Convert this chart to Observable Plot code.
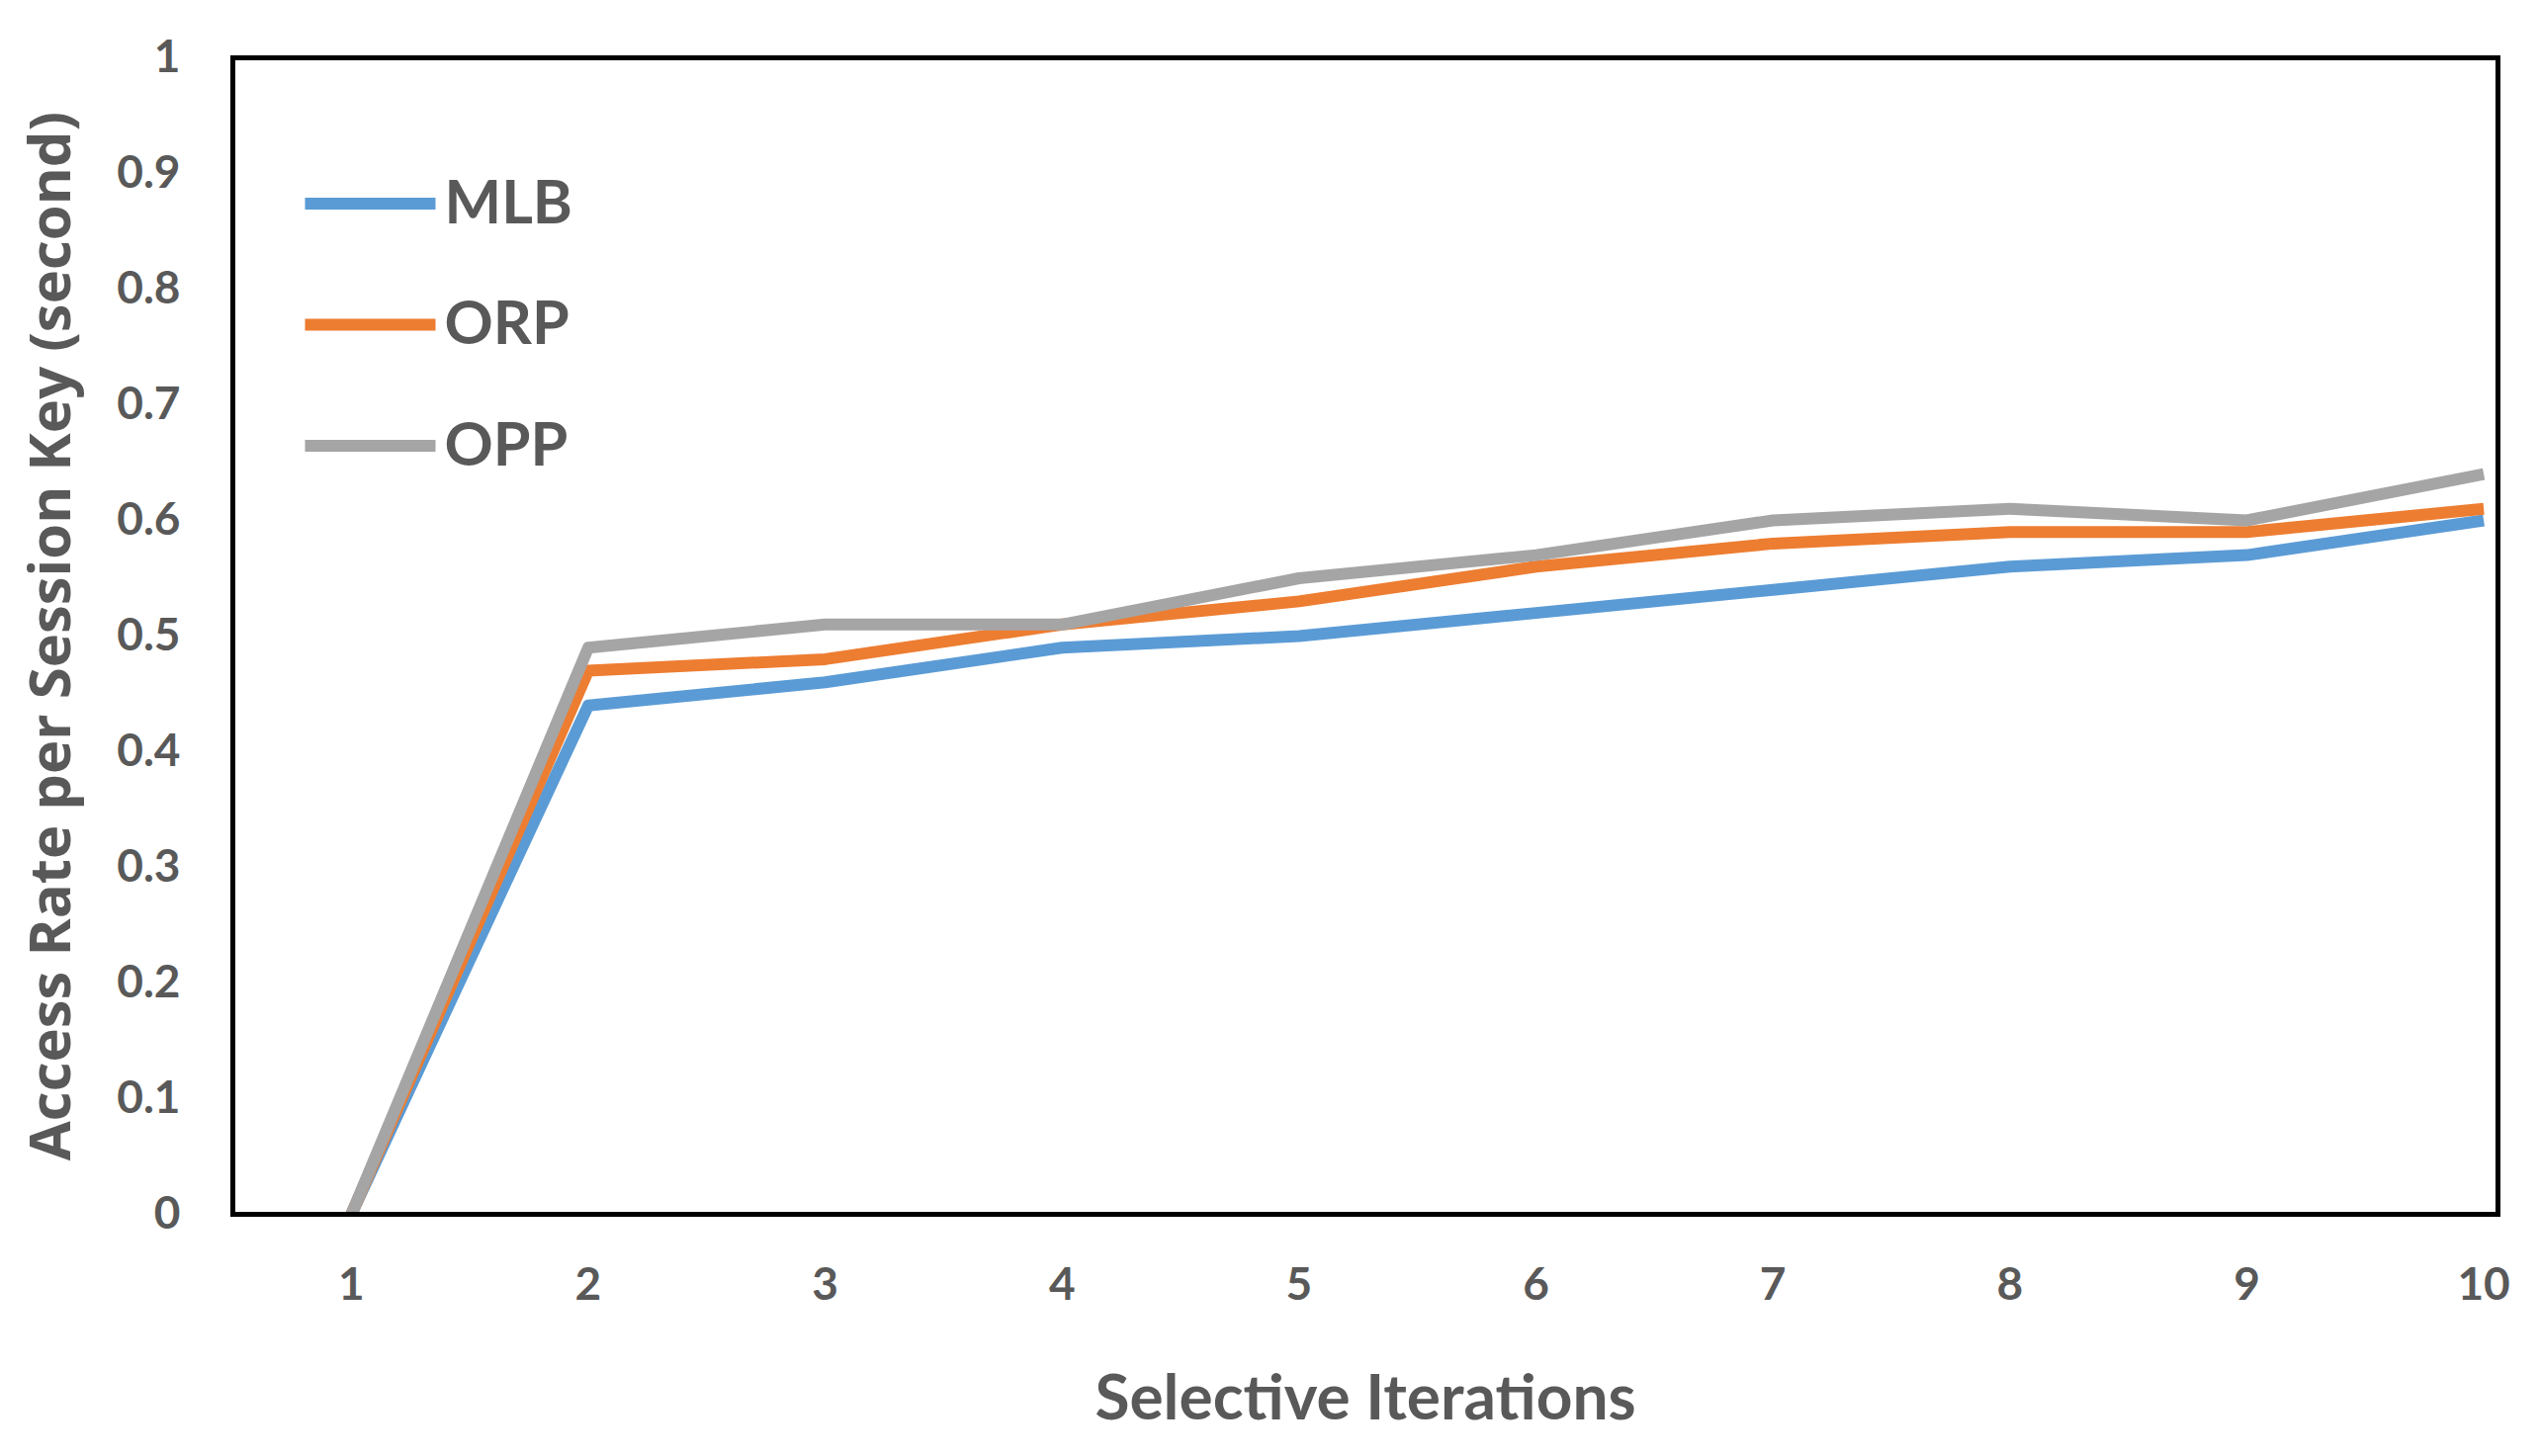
<!DOCTYPE html>
<html><head><meta charset="utf-8">
<script src="https://cdn.jsdelivr.net/npm/d3@7"></script>
<script src="https://cdn.jsdelivr.net/npm/@observablehq/plot@0.6"></script>
<style>html,body{margin:0;padding:0;background:#fff;overflow:hidden}</style>
</head><body><div id="chart"></div>
<script>
const iterations = [1, 2, 3, 4, 5, 6, 7, 8, 9, 10];
const mlb = [0, 0.44, 0.46, 0.49, 0.50, 0.52, 0.54, 0.56, 0.57, 0.60];
const orp = [0, 0.47, 0.48, 0.51, 0.53, 0.56, 0.58, 0.59, 0.59, 0.61];
const opp = [0, 0.49, 0.51, 0.51, 0.55, 0.57, 0.60, 0.61, 0.60, 0.64];
const seriesNames = ["MLB", "ORP", "OPP"];
const seriesColors = ["#5B9BD5", "#ED7D31", "#A5A5A5"];
const yTicks = [0, 0.1, 0.2, 0.3, 0.4, 0.5, 0.6, 0.7, 0.8, 0.9, 1];
const yTickLabels = ["0", "0.1", "0.2", "0.3", "0.4", "0.5", "0.6", "0.7", "0.8", "0.9", "1"];
const xTicks = iterations;
const xTitle = "Selective Iterations";
const yTitle = "Access Rate per Session Key (second)";

const seriesValues = [mlb, orp, opp];
const rows = seriesNames.flatMap((s, i) =>
  iterations.map((it, j) => ({series: s, iteration: it, value: seriesValues[i][j]})));

const swatch = {draw(ctx) { ctx.moveTo(-66, 0); ctx.lineTo(66, 0); }};
const textColor = "#595959";

const legendMarks = seriesNames.flatMap((s, i) => [
  Plot.dot([s], {frameAnchor: "top-left", dx: 139, dy: 147.5 + i * 122.5, symbol: swatch, r: 1,
    fill: "none", stroke: seriesColors[i], strokeWidth: 12, strokeLinecap: "butt"}),
  Plot.text([s], {frameAnchor: "top-left", dx: 214, dy: 147.5 + i * 122.5, text: d => d,
    textAnchor: "start", lineAnchor: "middle", fontSize: 61, fontFamily: "Lato", fontWeight: "bold", fill: textColor})
]);

const chart = Plot.plot({
  width: 2568, height: 1473,
  marginLeft: 235, marginRight: 42, marginTop: 58, marginBottom: 245,
  x: {domain: [0.5, 10.06]},
  y: {domain: [0, 1]},
  color: {domain: seriesNames, range: seriesColors},
  style: {color: textColor, fontFamily: "Lato", fontWeight: "bold", background: "#fff", overflow: "visible"},
  marks: [
    Plot.axisY({ticks: yTicks, tickFormat: d => yTickLabels[yTicks.indexOf(d)], tickSize: 0, tickPadding: 53,
      fontSize: 46, fontFamily: "Lato", fontWeight: "bold", label: null}),
    Plot.axisX({ticks: xTicks, tickFormat: d => String(d), tickSize: 0, tickPadding: 54,
      fontSize: 46, fontFamily: "Lato", fontWeight: "bold", label: null}),
    Plot.line(rows, {x: "iteration", y: "value", z: "series", stroke: "series", strokeWidth: 12,
      strokeLinejoin: "round", strokeLinecap: "butt", clip: "frame"}),
    Plot.frame({stroke: "black", strokeWidth: 5}),
    ...legendMarks,
    Plot.text([yTitle], {frameAnchor: "left", dx: -183, rotate: -90, text: d => d,
      textAnchor: "middle", lineAnchor: "middle",
      fontSize: 58, fontFamily: "Open Sans", fontWeight: "bold", fill: textColor}),
    Plot.text([xTitle], {frameAnchor: "bottom", dy: 187, text: d => d, textAnchor: "middle", lineAnchor: "middle",
      fontSize: 64, fontFamily: "Lato", fontWeight: "bold", fill: textColor})
  ]
});
document.getElementById("chart").appendChild(chart);
</script>
</body></html>
